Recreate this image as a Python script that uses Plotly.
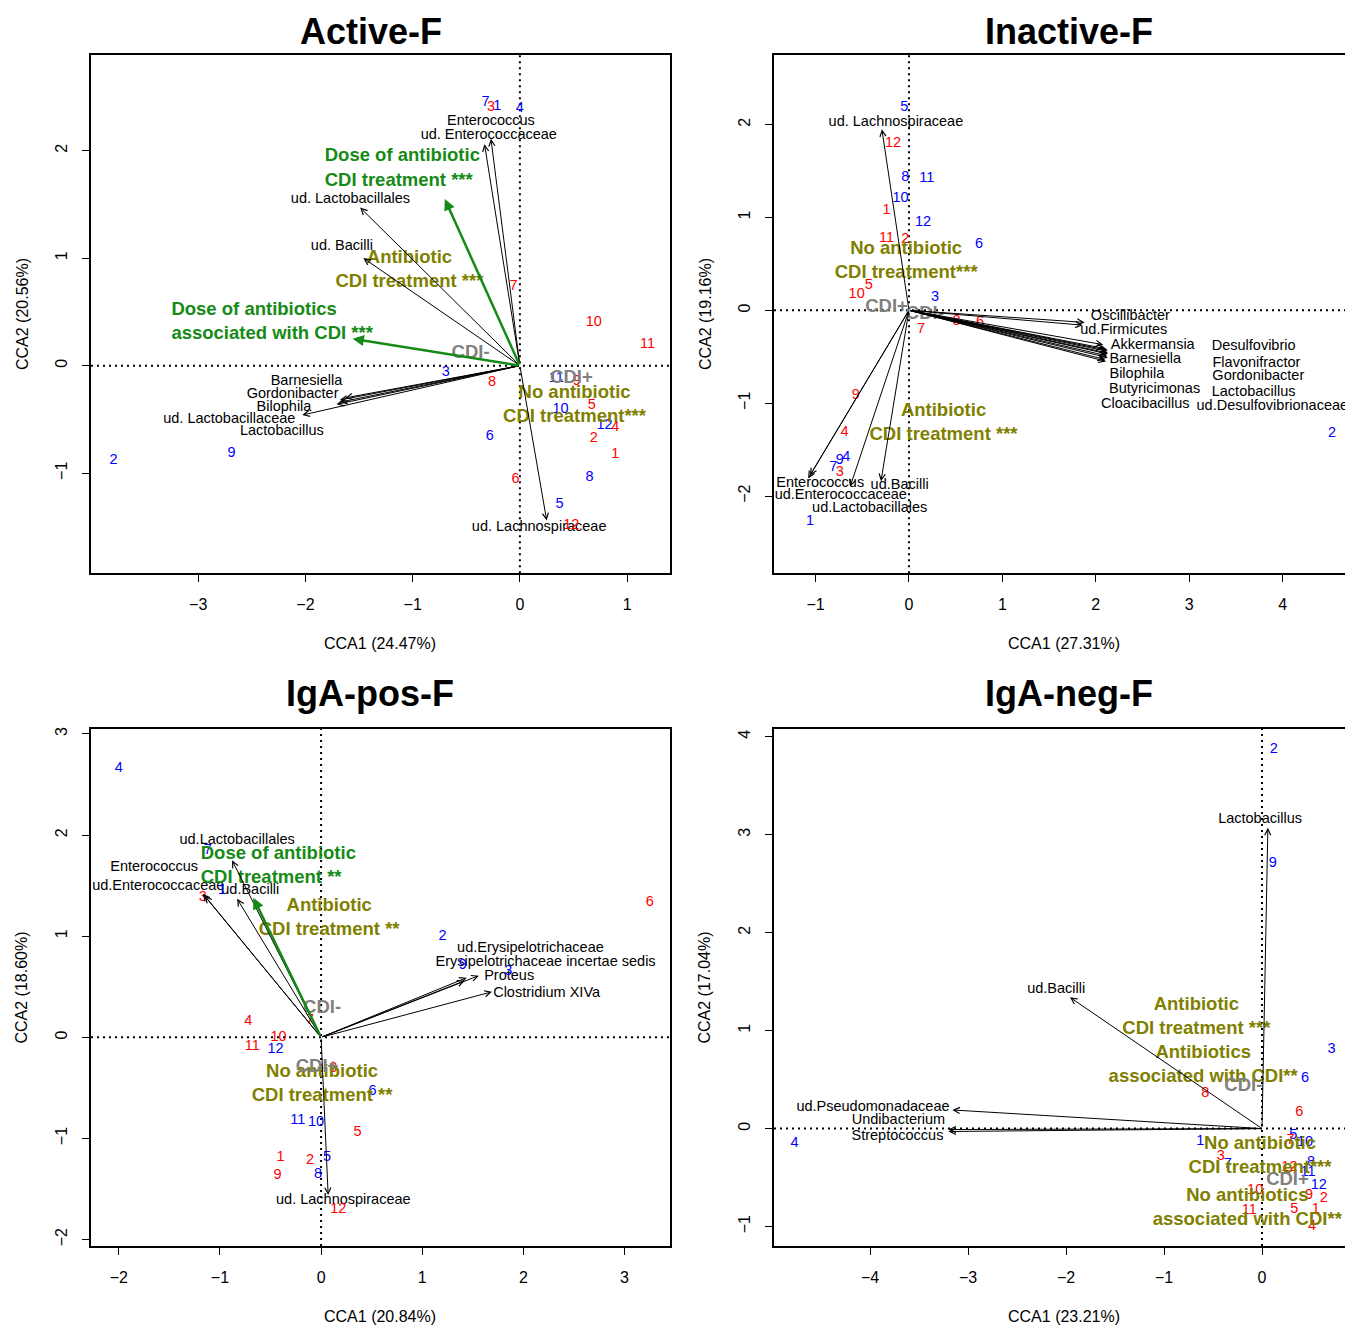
import plotly.graph_objects as go

W, H = 1345, 1328
IDS = [str(i) for i in range(1, 13)]

# ---------------- Active-F ----------------
ACT_BLUE_X = [-0.21, -3.79, -0.69, 0.00, 0.37, -0.28, -0.32, 0.65, -2.69, 0.38, 0.34, 0.79]
ACT_BLUE_Y = [2.41, -0.88, -0.06, 2.39, -1.29, -0.66, 2.45, -1.04, -0.82, -0.41, -0.12, -0.56]
ACT_RED_X = [0.89, 0.69, -0.27, 0.89, 0.67, -0.04, -0.06, -0.26, 0.53, 0.69, 1.19, 0.48]
ACT_RED_Y = [-0.83, -0.68, 2.40, -0.57, -0.37, -1.06, 0.74, -0.16, -0.15, 0.40, 0.20, -1.49]
ACT_SP = ["Enterococcus", "ud. Enterococcaceae", "ud. Lactobacillales", "ud. Bacilli",
          "Barnesiella", "Gordonibacter", "Bilophila", "ud. Lactobacillaceae",
          "Lactobacillus", "ud. Lachnospiraceae"]
ACT_SP_X = [-0.27, -0.33, -1.49, -1.46, -1.63, -1.68, -1.71, -2.03, -1.68, 0.25]
ACT_SP_Y = [2.11, 2.06, 1.47, 1.00, -0.30, -0.32, -0.36, -0.46, -0.34, -1.44]
ACT_SP_LX = [-0.27, -0.29, -1.58, -1.66, -1.99, -2.12, -2.20, -2.71, -2.22, 0.18]
ACT_SP_LY = [2.27, 2.14, 1.55, 1.11, -0.15, -0.27, -0.39, -0.50, -0.61, -1.50]
ACT_ENV = ["Dose of antibiotic<br>CDI treatment ***", "Dose of antibiotics<br>associated with CDI ***"]
ACT_ENV_X = [-0.70, -1.56]
ACT_ENV_Y = [1.55, 0.25]
ACT_ENV_LX = [-1.82, -3.25]
ACT_ENV_LY = [1.83, 0.40]
ACT_FAC = ["Antibiotic<br>CDI treatment ***", "No antibiotic<br>CDI treatment***"]
ACT_FAC_X = [-1.03, 0.51]
ACT_FAC_Y = [0.89, -0.37]
ACT_CDI = ["CDI-", "CDI+"]
ACT_CDI_X = [-0.46, 0.48]
ACT_CDI_Y = [0.11, -0.12]

# ---------------- Inactive-F ----------------
INA_BLUE_X = [-1.06, 4.53, 0.28, -0.67, -0.05, 0.75, -0.81, -0.04, -0.74, -0.09, 0.19, 0.15]
INA_BLUE_Y = [-2.27, -1.32, 0.14, -1.58, 2.19, 0.71, -1.69, 1.43, -1.62, 1.20, 1.42, 0.95]
INA_RED_X = [-0.24, -0.04, -0.74, -0.69, -0.43, 0.76, 0.13, 0.51, -0.57, -0.56, -0.24, -0.17]
INA_RED_Y = [1.08, 0.76, -1.74, -1.31, 0.27, -0.13, -0.20, -0.12, -0.92, 0.17, 0.77, 1.80]
INA_SP = ["ud. Lachnospiraceae", "Oscillibacter", "ud.Firmicutes", "Akkermansia", "Barnesiella",
          "Bilophila", "Butyricimonas", "Cloacibacillus", "Desulfovibrio", "Flavonifractor",
          "Gordonibacter", "Lactobacillus", "ud.Desulfovibrionaceae", "Enterococcus",
          "ud.Enterococcaceae", "ud.Lactobacillales", "ud.Bacilli"]
INA_SP_X = [-0.29, 1.88, 1.86, 2.08, 2.12, 2.13, 2.13, 2.11, 2.09, 2.13, 2.12, 2.10, 2.13,
            -1.08, -1.06, -0.63, -0.30]
INA_SP_Y = [1.95, -0.13, -0.16, -0.37, -0.44, -0.47, -0.51, -0.55, -0.41, -0.46, -0.49, -0.53, -0.43,
            -1.81, -1.78, -1.90, -1.84]
INA_SP_LX = [-0.14, 2.37, 2.30, 2.61, 2.53, 2.44, 2.63, 2.53, 3.69, 3.72, 3.74, 3.69, 3.89,
             -0.95, -0.73, -0.42, -0.10]
INA_SP_LY = [2.02, -0.06, -0.22, -0.38, -0.53, -0.69, -0.85, -1.01, -0.39, -0.57, -0.71, -0.88, -1.03,
             -1.86, -1.99, -2.13, -1.88]
INA_FAC = ["No antibiotic<br>CDI treatment***", "Antibiotic<br>CDI treatment ***"]
INA_FAC_X = [-0.03, 0.37]
INA_FAC_Y = [0.53, -1.22]
INA_CDI = ["CDI+", "CDI-"]
INA_CDI_X = [-0.24, 0.17]
INA_CDI_Y = [0.03, -0.04]

# ---------------- IgA-pos-F ----------------
POS_BLUE_X = [-0.98, 1.20, 1.85, -2.00, 0.06, 0.51, -1.12, -0.03, 1.40, -0.05, -0.23, -0.45]
POS_BLUE_Y = [1.45, 1.00, 0.65, 2.66, -1.19, -0.53, 1.85, -1.36, 0.71, -0.84, -0.82, -0.12]
POS_RED_X = [-0.40, -0.11, -1.17, -0.72, 0.36, 3.25, -0.11, 0.12, -0.43, -0.42, -0.68, 0.17]
POS_RED_Y = [-1.19, -1.22, 1.38, 0.16, -0.94, 1.33, 0.17, -0.31, -1.37, 0.00, -0.09, -1.70]
POS_SP = ["ud.Lactobacillales", "Enterococcus", "ud.Enterococcaceae", "ud.Bacilli",
          "ud.Erysipelotrichaceae", "Erysipelotrichaceae incertae sedis", "Proteus",
          "Clostridium XIVa", "ud. Lachnospiraceae"]
POS_SP_X = [-0.88, -1.17, -1.15, -0.83, 1.42, 1.44, 1.56, 1.69, 0.07]
POS_SP_Y = [1.75, 1.42, 1.40, 1.37, 0.56, 0.59, 0.61, 0.45, -1.56]
POS_SP_LX = [-0.83, -1.65, -1.61, -0.70, 2.07, 2.22, 1.86, 2.23, 0.22]
POS_SP_LY = [1.95, 1.68, 1.49, 1.45, 0.88, 0.74, 0.60, 0.43, -1.61]
POS_ENV = ["Dose of antibiotic<br>CDI treatment **"]
POS_ENV_X = [-0.67]
POS_ENV_Y = [1.38]
POS_ENV_LX = [-1.19]
POS_ENV_LY = [1.69]
POS_FAC = ["Antibiotic<br>CDI treatment **", "No antibiotic<br>CDI treatment **"]
POS_FAC_X = [0.08, 0.01]
POS_FAC_Y = [1.18, -0.47]
POS_CDI = ["CDI-", "CDI+"]
POS_CDI_X = [0.01, -0.04]
POS_CDI_Y = [0.29, -0.30]

# ---------------- IgA-neg-F ----------------
NEG_BLUE_X = [-0.63, 0.12, 0.71, -4.77, 0.32, 0.44, -0.35, 0.50, 0.11, 0.44, 0.47, 0.58]
NEG_BLUE_Y = [-0.13, 3.87, 0.81, -0.15, -0.07, 0.51, -0.37, -0.35, 2.71, -0.14, -0.45, -0.58]
NEG_RED_X = [0.55, 0.63, -0.42, 0.51, 0.33, 0.38, 0.29, -0.58, 0.48, -0.07, -0.13, 0.28]
NEG_RED_Y = [-0.82, -0.71, -0.28, -1.00, -0.82, 0.17, -0.12, 0.36, -0.68, -0.63, -0.84, -0.40]
NEG_SP = ["Lactobacillus", "ud.Bacilli", "ud.Pseudomonadaceae", "Undibacterium", "Streptococcus"]
NEG_SP_X = [0.06, -1.96, -3.16, -3.20, -3.20]
NEG_SP_Y = [3.07, 1.34, 0.19, -0.01, -0.03]
NEG_SP_LX = [-0.02, -2.10, -3.97, -3.71, -3.72]
NEG_SP_LY = [3.16, 1.42, 0.22, 0.08, -0.08]
NEG_FAC = ["Antibiotic<br>CDI treatment ***", "Antibiotics<br>associated with CDI**",
           "No antibiotic<br>CDI treatment***", "No antibiotics<br>associated with CDI**"]
NEG_FAC_X = [-0.67, -0.60, -0.02, -0.15]
NEG_FAC_Y = [1.14, 0.65, -0.28, -0.81]
NEG_CDI = ["CDI-", "CDI+"]
NEG_CDI_X = [-0.19, 0.26]
NEG_CDI_Y = [0.43, -0.53]

TITLES = ["Active-F", "Inactive-F", "IgA-pos-F", "IgA-neg-F"]
XLABS = ["CCA1 (24.47%)", "CCA1 (27.31%)", "CCA1 (20.84%)", "CCA1 (23.21%)"]
YLABS = ["CCA2 (20.56%)", "CCA2 (19.16%)", "CCA2 (18.60%)", "CCA2 (17.04%)"]

FONT = "Liberation Sans, Arial, Helvetica, sans-serif"
BLUE, RED, GREEN, OLIVE, GRAY = "#0000FF", "#FF0000", "#168A16", "#808000", "#808080"

panels = [
    dict(bx=ACT_BLUE_X, by=ACT_BLUE_Y, rx=ACT_RED_X, ry=ACT_RED_Y,
         sp=ACT_SP, spx=ACT_SP_X, spy=ACT_SP_Y, splx=ACT_SP_LX, sply=ACT_SP_LY,
         env=ACT_ENV, ex=ACT_ENV_X, ey=ACT_ENV_Y, elx=ACT_ENV_LX, ely=ACT_ENV_LY,
         fac=ACT_FAC, fx=ACT_FAC_X, fy=ACT_FAC_Y, cdi=ACT_CDI, cx=ACT_CDI_X, cy=ACT_CDI_Y),
    dict(bx=INA_BLUE_X, by=INA_BLUE_Y, rx=INA_RED_X, ry=INA_RED_Y,
         sp=INA_SP, spx=INA_SP_X, spy=INA_SP_Y, splx=INA_SP_LX, sply=INA_SP_LY,
         env=[], ex=[], ey=[], elx=[], ely=[],
         fac=INA_FAC, fx=INA_FAC_X, fy=INA_FAC_Y, cdi=INA_CDI, cx=INA_CDI_X, cy=INA_CDI_Y),
    dict(bx=POS_BLUE_X, by=POS_BLUE_Y, rx=POS_RED_X, ry=POS_RED_Y,
         sp=POS_SP, spx=POS_SP_X, spy=POS_SP_Y, splx=POS_SP_LX, sply=POS_SP_LY,
         env=POS_ENV, ex=POS_ENV_X, ey=POS_ENV_Y, elx=POS_ENV_LX, ely=POS_ENV_LY,
         fac=POS_FAC, fx=POS_FAC_X, fy=POS_FAC_Y, cdi=POS_CDI, cx=POS_CDI_X, cy=POS_CDI_Y),
    dict(bx=NEG_BLUE_X, by=NEG_BLUE_Y, rx=NEG_RED_X, ry=NEG_RED_Y,
         sp=NEG_SP, spx=NEG_SP_X, spy=NEG_SP_Y, splx=NEG_SP_LX, sply=NEG_SP_LY,
         env=[], ex=[], ey=[], elx=[], ely=[],
         fac=NEG_FAC, fx=NEG_FAC_X, fy=NEG_FAC_Y, cdi=NEG_CDI, cx=NEG_CDI_X, cy=NEG_CDI_Y),
]

# layout geometry (pixels)
boxes = [  # left, right, top, bottom
    (91, 670, 53, 572), (774, 1345, 53, 572),
    (91, 670, 728, 1246), (774, 1345, 728, 1246),
]
xranges = [[-4.0, 1.40], [-1.445, 4.668], [-2.275, 3.45], [-4.98, 0.847]]
yranges = [[-1.93, 2.89], [-2.83, 2.75], [-2.065, 3.05], [-1.20, 4.08]]
xticks = [[-3, -2, -1, 0, 1], [-1, 0, 1, 2, 3, 4], [-2, -1, 0, 1, 2, 3], [-4, -3, -2, -1, 0]]
yticks = [[-1, 0, 1, 2], [-2, -1, 0, 1, 2], [-2, -1, 0, 1, 2, 3], [-1, 0, 1, 2, 3, 4]]
title_pos = [(371, 30), (1069, 30), (370, 693), (1069, 693)]

fig = go.Figure()
annotations = []
shapes = []
layout = {}

for i, p in enumerate(panels):
    k = "" if i == 0 else str(i + 1)
    xa, ya = "x" + k, "y" + k
    l, r, t, b = boxes[i]
    full_right = r >= W
    layout["xaxis" + k] = dict(
        domain=[l / W, r / W], anchor=ya, range=xranges[i], tickvals=xticks[i],
        showline=True, linecolor="black", linewidth=1.8, mirror=True,
        ticks="outside", ticklen=7, tickwidth=1, tickcolor="black",
        showgrid=False, zeroline=False, ticklabelstandoff=9,
        tickfont=dict(size=16, family=FONT, color="black"))
    layout["yaxis" + k] = dict(
        domain=[1 - b / H, 1 - t / H], anchor=xa, range=yranges[i], tickvals=yticks[i],
        showline=True, linecolor="black", linewidth=1.8, mirror=not full_right,
        ticks="outside", ticklen=7, tickwidth=1, tickcolor="black", tickangle=-90,
        showgrid=False, zeroline=False, ticklabelstandoff=9,
        tickfont=dict(size=16, family=FONT, color="black"))

    # dotted axes through origin
    shapes.append(dict(type="line", xref=xa, yref=ya + " domain", x0=0, x1=0, y0=0, y1=1,
                       line=dict(color="black", width=2, dash="2px,4px"), layer="below"))
    shapes.append(dict(type="line", xref=xa + " domain", yref=ya, x0=0, x1=1, y0=0, y1=0,
                       line=dict(color="black", width=2, dash="2px,4px"), layer="below"))

    # species arrows
    for sx, sy in zip(p["spx"], p["spy"]):
        annotations.append(dict(x=sx, y=sy, ax=0, ay=0, xref=xa, yref=ya, axref=xa, ayref=ya,
                                text="", showarrow=True, arrowhead=5, arrowsize=1.2,
                                arrowwidth=1, arrowcolor="black", standoff=0))
    # environmental (green) arrows
    for sx, sy in zip(p["ex"], p["ey"]):
        annotations.append(dict(x=sx, y=sy, ax=0, ay=0, xref=xa, yref=ya, axref=xa, ayref=ya,
                                text="", showarrow=True, arrowhead=2, arrowsize=0.9,
                                arrowwidth=2.5, arrowcolor=GREEN, standoff=0))

    fig.add_trace(go.Scatter(x=p["splx"], y=p["sply"], text=p["sp"], mode="text",
                             textfont=dict(size=14.5, family=FONT, color="black"),
                             xaxis=xa, yaxis=ya, showlegend=False, hoverinfo="skip",
                             cliponaxis=False))
    fig.add_trace(go.Scatter(x=p["bx"], y=p["by"], text=IDS, mode="text",
                             textfont=dict(size=14.5, family=FONT, color=BLUE),
                             xaxis=xa, yaxis=ya, showlegend=False, hoverinfo="skip"))
    fig.add_trace(go.Scatter(x=p["rx"], y=p["ry"], text=IDS, mode="text",
                             textfont=dict(size=14.5, family=FONT, color=RED),
                             xaxis=xa, yaxis=ya, showlegend=False, hoverinfo="skip"))
    if p["env"]:
        fig.add_trace(go.Scatter(x=p["elx"], y=p["ely"], text=p["env"], mode="text",
                                 textposition="middle right",
                                 textfont=dict(size=18.5, family=FONT, color=GREEN, weight="bold"),
                                 xaxis=xa, yaxis=ya, showlegend=False, hoverinfo="skip"))
    fig.add_trace(go.Scatter(x=p["fx"], y=p["fy"], text=p["fac"], mode="text",
                             textfont=dict(size=18.5, family=FONT, color=OLIVE, weight="bold"),
                             xaxis=xa, yaxis=ya, showlegend=False, hoverinfo="skip",
                             cliponaxis=False))
    fig.add_trace(go.Scatter(x=p["cx"], y=p["cy"], text=p["cdi"], mode="text",
                             textfont=dict(size=18.5, family=FONT, color=GRAY, weight="bold"),
                             xaxis=xa, yaxis=ya, showlegend=False, hoverinfo="skip"))

    # titles and axis titles
    tx, ty = title_pos[i]
    annotations.append(dict(x=tx / W, y=1 - ty / H, xref="paper", yref="paper", showarrow=False,
                            xanchor="center", yanchor="middle",
                            text="<b>%s</b>" % TITLES[i],
                            font=dict(size=36, family=FONT, color="black")))
    cxp = (l + (r if not full_right else l + 579)) / 2
    annotations.append(dict(x=cxp / W, y=1 - (b + 70) / H, xref="paper", yref="paper",
                            xanchor="center", yanchor="middle",
                            showarrow=False, text=XLABS[i],
                            font=dict(size=16, family=FONT, color="black")))
    annotations.append(dict(x=(l - 69) / W, y=1 - ((t + b) / 2) / H, xref="paper", yref="paper",
                            xanchor="center", yanchor="middle",
                            showarrow=False, text=YLABS[i], textangle=-90,
                            font=dict(size=16, family=FONT, color="black")))

fig.update_layout(width=W, height=H, margin=dict(l=0, r=0, t=0, b=0),
                  plot_bgcolor="white", paper_bgcolor="white",
                  annotations=annotations, shapes=shapes, **layout)
fig.write_html("out.html", config={"displayModeBar": False},
               post_script="document.body.style.margin='0px';document.body.style.overflow='hidden';")
